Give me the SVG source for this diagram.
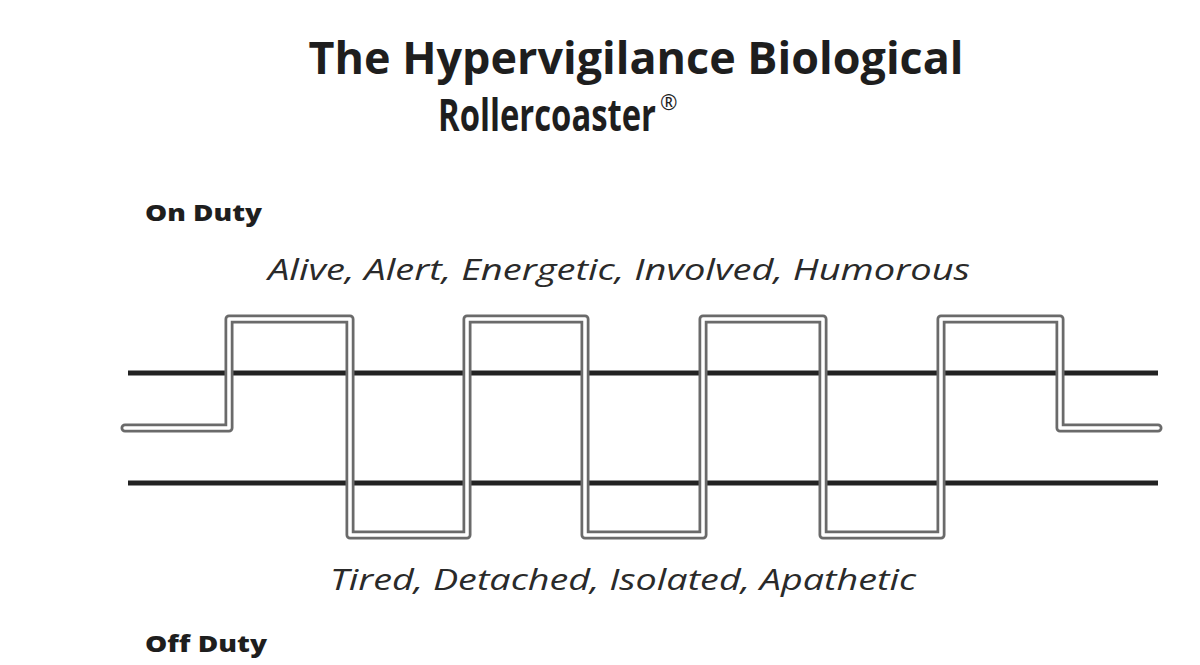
<svg xmlns="http://www.w3.org/2000/svg" width="1200" height="665" viewBox="0 0 1200 665">
<style>
.title{font-family:"Open Sans","Liberation Sans",sans-serif;font-weight:700;font-size:44px;fill:#1e1e1e}
.reg{font-weight:400;font-size:21px}
.lab{font-family:"Open Sans","Liberation Sans",sans-serif;font-weight:800;font-size:22px;fill:#1e1e1e}
.desc{font-family:"Open Sans","Liberation Sans",sans-serif;font-style:italic;font-size:30px;fill:#2a2a2a}
.band{stroke:#222;stroke-width:5;fill:none}
.waveO{stroke:#6a6a6a;stroke-width:9;fill:none;stroke-linejoin:round;stroke-linecap:round}
.waveI{stroke:#fff;stroke-width:3.5;fill:none;stroke-linejoin:round;stroke-linecap:round}
</style>
<rect width="1200" height="665" fill="#fff"/>
<g id="title">
<text class="title" x="636" y="74" text-anchor="middle" textLength="655" lengthAdjust="spacingAndGlyphs">The Hypervigilance Biological</text>
<text class="title" x="438" y="131"><tspan textLength="218" lengthAdjust="spacingAndGlyphs">Rollercoaster</tspan><tspan class="reg" dx="4" dy="-21">®</tspan></text>
</g>
<g id="on-duty"><text class="lab" x="145" y="221" textLength="117" lengthAdjust="spacingAndGlyphs">On Duty</text></g>
<g id="off-duty"><text class="lab" x="145" y="652" textLength="122" lengthAdjust="spacingAndGlyphs">Off Duty</text></g>
<g id="high-states"><text class="desc" x="268" y="280" textLength="702" lengthAdjust="spacingAndGlyphs">Alive, Alert, Energetic, Involved, Humorous</text></g>
<g id="low-states"><text class="desc" x="330" y="590" textLength="586" lengthAdjust="spacingAndGlyphs">Tired, Detached, Isolated, Apathetic</text></g>
<g id="connectors">
<line class="band" x1="128" y1="373" x2="1158" y2="373"/>
<line class="band" x1="128" y1="483" x2="1158" y2="483"/>
<path class="waveO" d="M125,428 H229 V319 H350 V535 H467 V319 H585 V535 H703 V319 H823 V535 H941 V319 H1060 V428 H1158"/>
<path class="waveI" d="M125,428 H229 V319 H350 V535 H467 V319 H585 V535 H703 V319 H823 V535 H941 V319 H1060 V428 H1158"/>
</g>
</svg>
